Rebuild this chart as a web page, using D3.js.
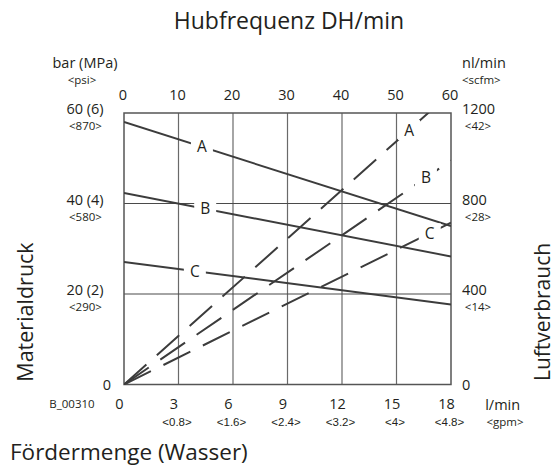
<!DOCTYPE html>
<html><head><meta charset="utf-8">
<script src="https://cdn.jsdelivr.net/npm/d3@7"></script>
<style>
body{margin:0;background:#fff;}
svg{display:block;font-family:"Open Sans",sans-serif;}
</style></head>
<body>
<svg id="c" width="555" height="468"></svg>
<script>
// ---- data ----
const strokeTicks = [0,10,20,30,40,50,60];           // Hubfrequenz DH/min (top)
const flowTicks = [0,3,6,9,12,15,18];                // l/min (bottom)
const flowSub = ["","<0.8>","<1.6>","<2.4>","<3.2>","<4>","<4.8>"]; // gpm
const pressTicks = [0,20,40,60];                     // bar
const pressLabels = ["0","20 (2)","40 (4)","60 (6)"];
const psiLabels = ["","<290>","<580>","<870>"];
const airTicks = [0,400,800,1200];                   // nl/min
const scfmLabels = ["","<14>","<28>","<42>"];
const seriesNames = ["A","B","C"];
// Materialdruck (bar) at 0 and 60 DH/min
const pressureAt0 = [58,42.3,27.1];
const pressureAt60 = [35,28.3,17.7];
// Luftverbrauch (nl/min) at 0 and 60 DH/min
const airAt0 = [0,0,0];
const airAt60 = [1290,990,715];
// label positions along lines (DH/min)
const pressLabelAt = [14.3,14.9,13.0];
const airLabelAt = [52.3,55.4,56.1];

const svg = d3.select("#c");
const TXT = "#231f20";
const SUB = 11.5;
const x = d3.scaleLinear().domain([0,60]).range([124,451]);
const xFlow = d3.scaleLinear().domain([0,18]).range([124,451]);
const yP = d3.scaleLinear().domain([0,60]).range([384.5,113]);
const yA = d3.scaleLinear().domain([0,1200]).range([384.5,113]);

svg.append("rect").attr("width",555).attr("height",468).attr("fill","#fff");

// grid
const g = svg.append("g");
g.selectAll(".vg").data(strokeTicks.slice(1,-1)).join("line")
  .attr("x1",d=>x(d)).attr("x2",d=>x(d)).attr("y1",yP(60)).attr("y2",yP(0))
  .attr("stroke","#6a6a6a").attr("stroke-width",1.2);
g.selectAll(".hg").data(pressTicks.slice(1,-1)).join("line")
  .attr("x1",x(0)).attr("x2",x(60)).attr("y1",d=>yP(d)).attr("y2",d=>yP(d))
  .attr("stroke","#4a4a4a").attr("stroke-width",1.2);
g.append("rect").attr("x",x(0)).attr("y",yP(60)).attr("width",x(60)-x(0)).attr("height",yP(0)-yP(60))
  .attr("fill","none").attr("stroke","#555").attr("stroke-width",1.5);

// clip
svg.append("clipPath").attr("id","clip").append("rect")
  .attr("x",x(0)).attr("y",yP(60)).attr("width",x(60)-x(0)).attr("height",yP(0)-yP(60));

const plot = svg.append("g").attr("clip-path","url(#clip)");
const lineP = d3.line().x(d=>x(d[0])).y(d=>yP(d[1]));
const lineA = d3.line().x(d=>x(d[0])).y(d=>yA(d[1]));

seriesNames.forEach((n,i)=>{
  plot.append("path").attr("d",lineP([[0,pressureAt0[i]],[60,pressureAt60[i]]]))
    .attr("stroke","#3c3c3c").attr("stroke-width",2).attr("fill","none");
  plot.append("path").attr("d",lineA([[0,airAt0[i]],[60,airAt60[i]]]))
    .attr("stroke","#3c3c3c").attr("stroke-width",2).attr("fill","none")
    .attr("stroke-dasharray","30,14");
});

// labels on lines
function lbl(px,py,t,w,h){
  svg.append("rect").attr("x",px-w/2).attr("y",py-h/2).attr("width",w).attr("height",h).attr("fill","#fff");
  svg.append("text").attr("x",px).attr("y",py+5.5).attr("text-anchor","middle")
    .attr("font-size",15.5).attr("fill",TXT).text(t);
}
seriesNames.forEach((n,i)=>{
  const d=pressLabelAt[i];
  const v=pressureAt0[i]+(pressureAt60[i]-pressureAt0[i])*d/60;
  lbl(x(d),yP(v),n,22,16);
  const d2=airLabelAt[i];
  const v2=airAt0[i]+(airAt60[i]-airAt0[i])*d2/60;
  lbl(x(d2),yA(v2),n,22,20);
});

// top axis
const topAx = svg.append("g").attr("transform",`translate(-1.5,${yP(60)-13})`)
  .call(d3.axisTop(x).tickValues(strokeTicks).tickSize(0).tickPadding(0).tickFormat(d3.format("d")));
topAx.select(".domain").remove();
topAx.selectAll("text").attr("font-size",14.5).attr("fill",TXT).attr("font-family","Open Sans");

// bottom axis
const botAx = svg.append("g").attr("transform",`translate(-5,${yP(0)+14})`)
  .call(d3.axisBottom(xFlow).tickValues(flowTicks).tickSize(0).tickPadding(0).tickFormat(d3.format("d")));
botAx.select(".domain").remove();
botAx.selectAll("text").attr("font-size",14.5).attr("fill",TXT).attr("font-family","Open Sans");
botAx.selectAll(".tick").append("text").attr("x",3).attr("y",27.5).attr("text-anchor","middle")
  .attr("font-size",SUB).attr("fill",TXT).text((d,i)=>flowSub[i]);
svg.append("text").attr("x",502.7).attr("y",409.5).attr("text-anchor","middle").attr("font-size",14.5).attr("fill",TXT).text("l/min");
svg.append("text").attr("x",505).attr("y",426).attr("text-anchor","middle").attr("font-size",SUB).attr("fill",TXT).text("<gpm>");
svg.append("text").attr("x",72).attr("y",408).attr("text-anchor","middle").attr("font-size",11.5).attr("fill",TXT).text("B_00310");

// left axis
const leftAx = svg.append("g");
pressTicks.forEach((v,i)=>{
  if(i===0){
    leftAx.append("text").attr("x",107).attr("y",yP(v)+5).attr("text-anchor","middle").attr("font-size",14.5).attr("fill",TXT).text(pressLabels[i]);
  } else {
    leftAx.append("text").attr("x",85).attr("y",yP(v)+1).attr("text-anchor","middle").attr("font-size",14.5).attr("fill",TXT).text(pressLabels[i]);
    leftAx.append("text").attr("x",85.5).attr("y",yP(v)+17).attr("text-anchor","middle").attr("font-size",SUB).attr("fill",TXT).text(psiLabels[i]);
  }
});
svg.append("text").attr("x",85).attr("y",68).attr("text-anchor","middle").attr("font-size",14.5).attr("fill",TXT).text("bar (MPa)");
svg.append("text").attr("x",82).attr("y",84).attr("text-anchor","middle").attr("font-size",SUB).attr("fill",TXT).text("<psi>");

// right axis
const rightAx = svg.append("g");
airTicks.forEach((v,i)=>{
  if(i===0){
    rightAx.append("text").attr("x",462).attr("y",yA(v)+5).attr("font-size",14.5).attr("fill",TXT).text("0");
  } else {
    rightAx.append("text").attr("x",462).attr("y",yA(v)+1).attr("font-size",14.5).attr("fill",TXT).text(airTicks[i]);
    rightAx.append("text").attr("x",478).attr("y",yA(v)+17).attr("text-anchor","middle").attr("font-size",SUB).attr("fill",TXT).text(scfmLabels[i]);
  }
});
svg.append("text").attr("x",462).attr("y",68).attr("font-size",14.5).attr("fill",TXT).text("nl/min");
svg.append("text").attr("x",462).attr("y",84).attr("font-size",SUB).attr("fill",TXT).text("<scfm>");

// titles
svg.append("text").attr("x",289).attr("y",29).attr("text-anchor","middle").attr("font-size",23).attr("fill",TXT).text("Hubfrequenz DH/min");
svg.append("text").attr("x",10).attr("y",460).attr("font-size",22.5).attr("fill",TXT).text("Fördermenge (Wasser)");
svg.append("text").attr("transform","translate(33,312) rotate(-90)").attr("text-anchor","middle").attr("font-size",21.5).attr("fill",TXT).text("Materialdruck");
svg.append("text").attr("transform","translate(550,312) rotate(-90)").attr("text-anchor","middle").attr("font-size",21).attr("fill",TXT).text("Luftverbrauch");
</script>
</body></html>
